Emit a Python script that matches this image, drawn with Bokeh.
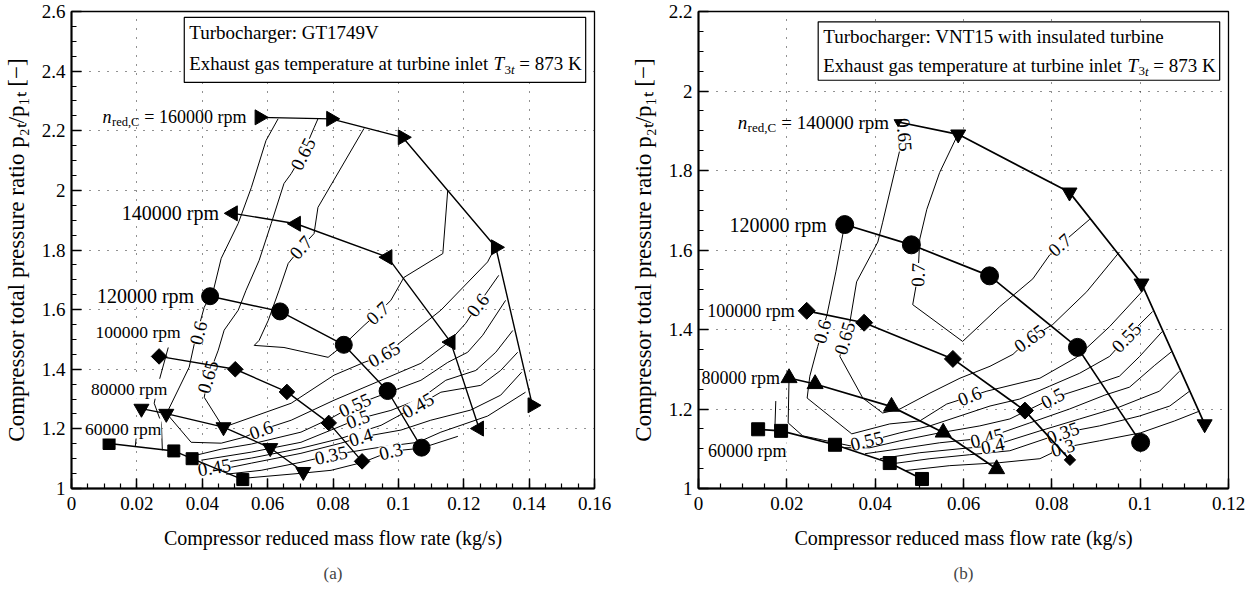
from bokeh.plotting import figure
from bokeh.layouts import row
from bokeh.models import FixedTicker, Title, Range1d
from bokeh.core.properties import value
from bokeh.embed import file_html
from bokeh.resources import INLINE
import math

SERIF = "Liberation Serif"

# ===================== Panel (a): GT1749V =====================
A_XT = [0.0, 0.02, 0.04, 0.06, 0.08, 0.10, 0.12, 0.14, 0.16]
A_XT_LABELS = ["0", "0.02", "0.04", "0.06", "0.08", "0.1", "0.12", "0.14", "0.16"]
A_YT = [1.0, 1.2, 1.4, 1.6, 1.8, 2.0, 2.2, 2.4, 2.6]
A_YT_LABELS = ["1", "1.2", "1.4", "1.6", "1.8", "2", "2.2", "2.4", "2.6"]

# speed lines (x: reduced mass flow kg/s, y: pressure ratio)
A_N60_X = [0.0115, 0.0313, 0.0369, 0.0524]
A_N60_Y = [1.151, 1.126, 1.100, 1.030]
A_N80_X = [0.0214, 0.0290, 0.0465, 0.0608, 0.0709]
A_N80_Y = [1.268, 1.251, 1.206, 1.136, 1.056]
A_N100_X = [0.0268, 0.0501, 0.0659, 0.0787, 0.0889]
A_N100_Y = [1.443, 1.400, 1.324, 1.220, 1.091]
A_N120_X = [0.0424, 0.0638, 0.0833, 0.0967, 0.1071]
A_N120_Y = [1.645, 1.594, 1.482, 1.327, 1.137]
A_N140_X = [0.0494, 0.0687, 0.0967, 0.1160, 0.1247]
A_N140_Y = [1.923, 1.888, 1.776, 1.491, 1.201]
A_N160_X = [0.0575, 0.0794, 0.1013, 0.1298, 0.1410]
A_N160_Y = [2.245, 2.240, 2.178, 1.809, 1.279]

# efficiency contours (a)
A_E070_X = [0.0895, 0.0754, 0.0742, 0.0702, 0.0663, 0.0635, 0.0602, 0.0574, 0.0559, 0.0650,
            0.0785, 0.0831, 0.0895, 0.0937, 0.0977, 0.1017, 0.1136, 0.1151]
A_E070_Y = [2.208, 1.943, 1.855, 1.808, 1.755, 1.665, 1.564, 1.497, 1.480, 1.473,
            1.440, 1.480, 1.547, 1.588, 1.631, 1.708, 1.788, 2.000]
A_E065_X = [0.0754, 0.0742, 0.0708, 0.0672, 0.0650, 0.0611, 0.0574, 0.0534, 0.0510, 0.0467,
            0.0449, 0.0418, 0.0406, 0.0464, 0.0672, 0.0803, 0.0895, 0.0956, 0.1014, 0.1130,
            0.1273, 0.1292]
A_E065_Y = [2.240, 2.210, 2.123, 2.056, 2.023, 1.889, 1.765, 1.665, 1.598, 1.531,
            1.464, 1.373, 1.306, 1.205, 1.286, 1.380, 1.423, 1.447, 1.497, 1.598,
            1.760, 1.800]
A_E060_X = [0.0632, 0.0595, 0.0550, 0.0510, 0.0458, 0.0434, 0.0406, 0.0376, 0.0360, 0.0296,
            0.0290, 0.0366, 0.0458, 0.0528, 0.0580, 0.0672, 0.0803, 0.0947, 0.1069, 0.1154,
            0.1206, 0.1243, 0.1307]
A_E060_Y = [2.240, 2.167, 2.009, 1.889, 1.772, 1.664, 1.608, 1.487, 1.407, 1.263,
            1.253, 1.155, 1.152, 1.172, 1.196, 1.229, 1.296, 1.363, 1.420, 1.491,
            1.554, 1.615, 1.715]
A_E055_X = [0.0382, 0.0458, 0.0550, 0.0702, 0.0794, 0.0867, 0.0947, 0.1069, 0.1151, 0.1212, 0.1258, 0.1328]
A_E055_Y = [1.112, 1.132, 1.149, 1.189, 1.236, 1.280, 1.313, 1.363, 1.423, 1.457, 1.514, 1.631]
A_E050_X = [0.0397, 0.0550, 0.0702, 0.0794, 0.0876, 0.0977, 0.1069, 0.1145, 0.1237, 0.1298, 0.1350]
A_E050_Y = [1.095, 1.122, 1.155, 1.196, 1.233, 1.262, 1.302, 1.363, 1.396, 1.457, 1.530]
A_E045_X = [0.0412, 0.0550, 0.0702, 0.0824, 0.0947, 0.1060, 0.1130, 0.1252, 0.1313, 0.1365]
A_E045_Y = [1.078, 1.102, 1.135, 1.168, 1.212, 1.279, 1.323, 1.346, 1.396, 1.457]
A_E040_X = [0.0443, 0.0550, 0.0702, 0.0824, 0.0885, 0.1008, 0.1099, 0.1221, 0.1313, 0.1377]
A_E040_Y = [1.061, 1.085, 1.118, 1.152, 1.172, 1.196, 1.229, 1.263, 1.313, 1.390]
A_E035_X = [0.0473, 0.0580, 0.0702, 0.0794, 0.0947, 0.1060, 0.1130, 0.1273, 0.1389]
A_E035_Y = [1.048, 1.061, 1.088, 1.112, 1.139, 1.155, 1.189, 1.243, 1.323]
A_E030_X = [0.0534, 0.0702, 0.0794, 0.0892, 0.0977, 0.1069, 0.1182]
A_E030_Y = [1.035, 1.051, 1.061, 1.088, 1.125, 1.135, 1.175]
A_EX1_X = [0.0296, 0.0266, 0.0253, 0.0275, 0.0278]
A_EX1_Y = [1.473, 1.353, 1.286, 1.219, 1.128]
A_EX2_X = [0.0198, 0.0195]
A_EX2_Y = [1.172, 1.139]

# contour labels (a)
A_LBL_TEXT = ["0.6", "0.65", "0.65", "0.7", "0.7", "0.65", "0.6", "0.6", "0.55", "0.5",
              "0.45", "0.4", "0.35", "0.3", "0.45"]
A_LBL_X = [0.0388, 0.0708, 0.0417, 0.0702, 0.0937, 0.0956, 0.0580, 0.1243, 0.0867, 0.0876,
           0.1060, 0.0885, 0.0794, 0.0977, 0.0437]
A_LBL_Y = [1.522, 2.122, 1.374, 1.808, 1.588, 1.450, 1.196, 1.615, 1.280, 1.233,
           1.279, 1.172, 1.112, 1.125, 1.071]
A_LBL_ANG = [76, 63, 73, 49, 43, 30, 20, 53, 25, 20, 29, 17, 12, 14, 10]

A_BOX = [0.0345, 0.1573, 2.362, 2.580]   # left, right, bottom, top
A_BOX_ROWS = [2.529, 2.425]

# ===================== Panel (b): VNT15 =====================
B_XT = [0.0, 0.02, 0.04, 0.06, 0.08, 0.10, 0.12]
B_XT_LABELS = ["0", "0.02", "0.04", "0.06", "0.08", "0.1", "0.12"]
B_YT = [1.0, 1.2, 1.4, 1.6, 1.8, 2.0, 2.2]
B_YT_LABELS = ["1", "1.2", "1.4", "1.6", "1.8", "2", "2.2"]

B_N60_X = [0.0135, 0.0187, 0.0309, 0.0433, 0.0506]
B_N60_Y = [1.149, 1.145, 1.110, 1.064, 1.024]
B_N80_X = [0.0205, 0.0264, 0.0437, 0.0554, 0.0675]
B_N80_Y = [1.278, 1.263, 1.206, 1.141, 1.049]
B_N100_X = [0.0245, 0.0375, 0.0576, 0.0739, 0.0841]
B_N100_Y = [1.447, 1.417, 1.326, 1.196, 1.072]
B_N120_X = [0.0331, 0.0482, 0.0659, 0.0858, 0.1001]
B_N120_Y = [1.664, 1.613, 1.535, 1.355, 1.116]
B_N140_X = [0.0452, 0.0588, 0.0840, 0.1003, 0.1146]
B_N140_Y = [1.922, 1.891, 1.745, 1.516, 1.162]

B_E070_X = [0.0587, 0.0546, 0.0517, 0.0501, 0.0497, 0.0485, 0.0598, 0.0682, 0.0757, 0.0795, 0.0818, 0.0886]
B_E070_Y = [1.890, 1.795, 1.7025, 1.6275, 1.5375, 1.4625, 1.370, 1.4575, 1.5275, 1.5875, 1.6125, 1.6775]
B_E065_X = [0.0451, 0.0456, 0.0417, 0.0406, 0.0358, 0.0343, 0.0336, 0.0320, 0.0372, 0.0417,
            0.0456, 0.0524, 0.0592, 0.0660, 0.0712, 0.0750, 0.0802, 0.0879, 0.0953]
B_E065_Y = [1.9225, 1.8525, 1.670, 1.620, 1.520, 1.420, 1.395, 1.3325, 1.2275, 1.190,
            1.200, 1.240, 1.2775, 1.3075, 1.3375, 1.3775, 1.4125, 1.495, 1.595]
B_E060_X = [0.0331, 0.0311, 0.0291, 0.0270, 0.0252, 0.0246, 0.0347, 0.0433, 0.0501, 0.0562,
            0.0653, 0.0773, 0.0856, 0.0931, 0.1010]
B_E060_Y = [1.665, 1.545, 1.4375, 1.3575, 1.2825, 1.2275, 1.1375, 1.1625, 1.170, 1.2125,
            1.245, 1.2775, 1.330, 1.4075, 1.5025]
B_E055_X = [0.0205, 0.0203, 0.0236, 0.0343, 0.0388, 0.0456, 0.0524, 0.0592, 0.0660, 0.0727,
            0.0795, 0.0863, 0.0931, 0.0969, 0.1028]
B_E055_Y = [1.2775, 1.165, 1.1325, 1.1075, 1.120, 1.140, 1.1575, 1.1825, 1.2075, 1.225,
            1.2575, 1.290, 1.3325, 1.380, 1.445]
B_E050_X = [0.0331, 0.0388, 0.0456, 0.0546, 0.0637, 0.0705, 0.0802, 0.0886, 0.0953, 0.0999, 0.1050]
B_E050_Y = [1.1025, 1.1025, 1.120, 1.140, 1.1575, 1.175, 1.2275, 1.2575, 1.2825, 1.3325, 1.395]
B_E045_X = [0.0377, 0.0456, 0.0546, 0.0653, 0.0750, 0.0840, 0.0920, 0.0976, 0.1033, 0.1072]
B_E045_Y = [1.0875, 1.100, 1.115, 1.1275, 1.165, 1.200, 1.235, 1.255, 1.310, 1.345]
B_E040_X = [0.0411, 0.0501, 0.0592, 0.0666, 0.0773, 0.0863, 0.0953, 0.1044, 0.1089]
B_E040_Y = [1.075, 1.090, 1.100, 1.1075, 1.145, 1.175, 1.205, 1.245, 1.295]
B_E035_X = [0.0440, 0.0524, 0.0614, 0.0705, 0.0825, 0.0908, 0.0999, 0.1067, 0.1112]
B_E035_Y = [1.0625, 1.075, 1.085, 1.095, 1.140, 1.1575, 1.1825, 1.2075, 1.245]
B_E030_X = [0.0467, 0.0569, 0.0682, 0.0773, 0.0825, 0.0908, 0.1001, 0.1078, 0.1135]
B_E030_Y = [1.045, 1.0575, 1.065, 1.075, 1.1025, 1.120, 1.140, 1.170, 1.195]
B_EX1_X = [0.0175, 0.0173]
B_EX1_Y = [1.220, 1.153]

B_LBL_TEXT = ["0.65", "0.6", "0.65", "0.7", "0.7", "0.65", "0.55", "0.6", "0.5", "0.55",
              "0.45", "0.4", "0.35", "0.3"]
B_LBL_X = [0.0466, 0.0280, 0.0331, 0.0497, 0.0818, 0.0750, 0.0969, 0.0614, 0.0802, 0.0381,
           0.0653, 0.0666, 0.0825, 0.0825]
B_LBL_Y = [1.890, 1.395, 1.378, 1.5375, 1.6125, 1.3775, 1.380, 1.2325, 1.2275, 1.120,
           1.1275, 1.1075, 1.140, 1.1025]
B_LBL_ANG = [-85, 74, 74, 88, 42, 36, 46, 22, 28, 14, 14, 12, 20, 16]

B_BOX = [0.0271, 0.1180, 2.027, 2.174]
B_BOX_ROWS = [2.1375, 2.065]


def frange(a, b, step):
    n = int(round((b - a) / step))
    return [round(a + i * step, 4) for i in range(n + 1)]


def base_fig(width, x_end, y_end, xt, xtl, yt, ytl, left, right, top, caption):
    p = figure(width=width, height=594, x_range=Range1d(0, x_end), y_range=Range1d(1.0, y_end),
               output_backend="svg", toolbar_location=None, title=None,
               min_border_left=left, min_border_right=right, min_border_top=top,
               min_border_bottom=106)
    p.background_fill_color = "white"
    p.border_fill_color = "white"
    p.outline_line_color = "black"
    p.outline_line_width = 1.3
    xtick = FixedTicker(ticks=xt, minor_ticks=frange(0.0, x_end, 0.005))
    ytick = FixedTicker(ticks=yt, minor_ticks=frange(1.0, y_end, 0.05))
    p.xaxis.ticker = xtick
    p.yaxis.ticker = ytick
    p.xgrid.ticker = xtick
    p.ygrid.ticker = ytick
    p.xaxis.major_label_overrides = dict(zip(xt, xtl))
    p.yaxis.major_label_overrides = dict(zip(yt, ytl))
    for ax in (p.xaxis[0], p.yaxis[0]):
        ax.axis_line_width = 2
        ax.axis_line_color = "black"
        ax.major_tick_in = 10
        ax.major_tick_out = 0
        ax.minor_tick_in = 5
        ax.minor_tick_out = 0
        ax.major_tick_line_width = 1.5
        ax.minor_tick_line_width = 1.2
        ax.major_label_text_font = SERIF
        ax.major_label_text_font_size = "19px"
        ax.major_label_text_color = "black"
        ax.axis_label_text_font = SERIF
        ax.axis_label_text_font_style = "normal"
        ax.axis_label_text_color = "black"
    p.xaxis.axis_label_text_font_size = "20px"
    p.yaxis.axis_label_text_font_size = "23px"
    p.xaxis.major_label_standoff = 8
    p.yaxis.major_label_standoff = 6
    p.xaxis.axis_label_standoff = 14
    p.yaxis.axis_label_standoff = 10
    p.xaxis.axis_label = "Compressor reduced mass flow rate (kg/s)"
    p.yaxis.axis_label = "Compressor total pressure ratio p\u2082\u209c/p\u2081\u209c [\u2212]"
    p.grid.grid_line_color = "#222222"
    p.grid.grid_line_dash = "1 8"
    p.grid.grid_line_width = 1
    p.add_layout(Title(text=caption, align="center", text_font=SERIF, text_font_size="17px",
                       text_font_style="normal", standoff=21), "below")
    return p


def txt(p, xs, ys, texts, size, align="center", angle=0, style="normal", x_off=0, y_off=0, bg=None):
    kw = {}
    if bg is not None:
        kw["background_fill_color"] = bg
    p.text(x=xs, y=ys, text=texts, angle=angle, angle_units="deg", x_offset=x_off, y_offset=y_off,
           text_font=value(SERIF), text_font_size=size, text_font_style=style,
           text_align=align, text_baseline="middle", text_color="black", **kw)


def speed(p, xs, ys, marker, size, angle=0.0, lw=1.4, sizes=None):
    p.line(xs, ys, line_color="black", line_width=lw)
    p.scatter(xs, ys, marker=marker, size=sizes if sizes is not None else size, angle=angle,
              fill_color="black", line_color="black")


DEG45 = math.pi / 4


def info_box(p, box, rows, line1):
    p.quad(left=[box[0]], right=[box[1]], bottom=[box[2]], top=[box[3]],
           fill_color="white", line_color="black", line_width=1.2)
    txt(p, [box[0]], [rows[0]], [line1], "19px", align="left", x_off=5)
    txt(p, [box[0]], [rows[1]], ["Exhaust gas temperature at turbine inlet"], "18.8px", align="left", x_off=5)
    txt(p, [box[1]], [rows[1]], ["= 873 K"], "19px", align="right", x_off=-4)
    txt(p, [box[1]], [rows[1]], ["t"], "13px", align="right", x_off=-71, y_off=6, style="italic")
    txt(p, [box[1]], [rows[1]], ["3"], "13px", align="right", x_off=-74.6, y_off=6)
    txt(p, [box[1]], [rows[1]], ["T"], "19px", align="right", x_off=-81.6, style="italic")


# ----------------------------- figure (a)
pa = base_fig(626, 0.16, 2.6, A_XT, A_XT_LABELS, A_YT, A_YT_LABELS, 70, 32, 11, "(a)")
pa.multi_line(xs=[A_E070_X, A_E065_X, A_E060_X, A_E055_X, A_E050_X, A_E045_X, A_E040_X,
                  A_E035_X, A_E030_X, A_EX1_X, A_EX2_X],
              ys=[A_E070_Y, A_E065_Y, A_E060_Y, A_E055_Y, A_E050_Y, A_E045_Y, A_E040_Y,
                  A_E035_Y, A_E030_Y, A_EX1_Y, A_EX2_Y],
              line_color="black", line_width=1)
txt(pa, A_LBL_X, A_LBL_Y, A_LBL_TEXT, "19px", angle=A_LBL_ANG, bg="white")
speed(pa, A_N60_X, A_N60_Y, "square", 12)
speed(pa, A_N80_X, A_N80_Y, "inverted_triangle", 15)
speed(pa, A_N100_X, A_N100_Y, "square", 11, angle=DEG45)
speed(pa, A_N120_X, A_N120_Y, "circle", 17)
speed(pa, A_N140_X, A_N140_Y, "triangle", 15, angle=math.pi / 2)
speed(pa, A_N160_X, A_N160_Y, "triangle", 15, angle=-math.pi / 2)

txt(pa, [A_N160_X[0]], [A_N160_Y[0]], ["= 160000 rpm"], "18px", align="right", x_off=-13)
txt(pa, [A_N160_X[0]], [A_N160_Y[0]], ["red,C"], "12.5px", align="right", x_off=-120, y_off=5)
txt(pa, [A_N160_X[0]], [A_N160_Y[0]], ["n"], "18px", align="right", x_off=-148, style="italic")
txt(pa, [A_N140_X[0]], [A_N140_Y[0]], ["140000 rpm"], "20px", align="right", x_off=-14, bg="white")
txt(pa, [A_N120_X[0]], [A_N120_Y[0]], ["120000 rpm"], "20px", align="right", x_off=-16, bg="white")
txt(pa, [0.0334], [1.525], ["100000 rpm"], "17.5px", align="right", bg="white")
txt(pa, [0.0293], [1.335], ["80000 rpm"], "17.5px", align="right", bg="white")
txt(pa, [0.0275], [1.201], ["60000 rpm"], "17.5px", align="right", bg="white")
info_box(pa, A_BOX, A_BOX_ROWS, "Turbocharger: GT1749V")

# ----------------------------- figure (b)
pb = base_fig(627, 0.12, 2.2, B_XT, B_XT_LABELS, B_YT, B_YT_LABELS, 72, 25, 8, "(b)")
pb.multi_line(xs=[B_E070_X, B_E065_X, B_E060_X, B_E055_X, B_E050_X, B_E045_X, B_E040_X,
                  B_E035_X, B_E030_X, B_EX1_X],
              ys=[B_E070_Y, B_E065_Y, B_E060_Y, B_E055_Y, B_E050_Y, B_E045_Y, B_E040_Y,
                  B_E035_Y, B_E030_Y, B_EX1_Y],
              line_color="black", line_width=1)
txt(pb, B_LBL_X, B_LBL_Y, B_LBL_TEXT, "19px", angle=B_LBL_ANG, bg="white")
speed(pb, B_N60_X, B_N60_Y, "square", 13, lw=1.7)
speed(pb, B_N80_X, B_N80_Y, "triangle", 16, lw=1.7)
speed(pb, B_N100_X, B_N100_Y, "square", 12, angle=DEG45, lw=1.7,
      sizes=[12] * (len(B_N100_X) - 1) + [8])
speed(pb, B_N120_X, B_N120_Y, "circle", 18, lw=1.7)
speed(pb, B_N140_X, B_N140_Y, "inverted_triangle", 15, lw=1.7,
      sizes=[8] + [15] * (len(B_N140_X) - 1))

txt(pb, [B_N140_X[0]], [B_N140_Y[0]], ["= 140000 rpm"], "19px", align="right", x_off=-9)
txt(pb, [B_N140_X[0]], [B_N140_Y[0]], ["red,C"], "13px", align="right", x_off=-122, y_off=5)
txt(pb, [B_N140_X[0]], [B_N140_Y[0]], ["n"], "19px", align="right", x_off=-151, style="italic")
txt(pb, [B_N120_X[0]], [B_N120_Y[0]], ["120000 rpm"], "20px", align="right", x_off=-18, bg="white")
txt(pb, [B_N100_X[0]], [B_N100_Y[0]], ["100000 rpm"], "18px", align="right", x_off=-12, bg="white")
txt(pb, [B_N80_X[0]], [B_N80_Y[0]], ["80000 rpm"], "18px", align="right", x_off=-9, bg="white")
txt(pb, [0.01995], [1.095], ["60000 rpm"], "18px", align="right", bg="white")
info_box(pb, B_BOX, B_BOX_ROWS, "Turbocharger: VNT15 with insulated turbine")

layout = row(pa, pb)
open("out.html", "w").write(file_html(layout, INLINE))
